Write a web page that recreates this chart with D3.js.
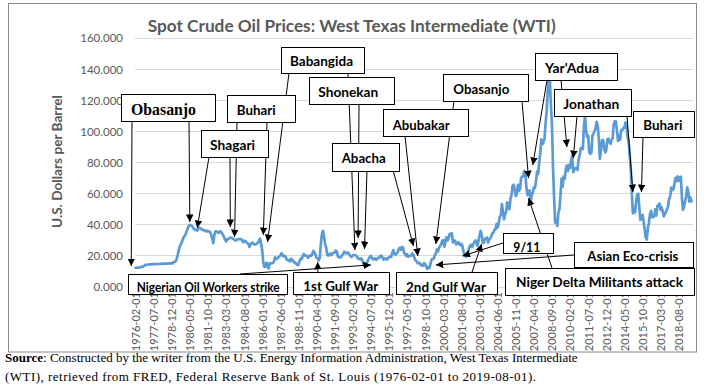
<!DOCTYPE html>
<html><head><meta charset="utf-8">
<script src="https://cdn.jsdelivr.net/npm/d3@7"></script>
<style>body{margin:0;background:#fff} svg{display:block}</style>
</head><body>
<svg id="c" width="706" height="389"></svg>
<script>
// ---------------- DATA ----------------
const startMonth = "1976-02";
const wti1970s = [
 12.1,12.1,12.2,12.2,12.2,12.6,12.6,12.9,13.2,13.9,14.0,
 14.0,14.2,14.3,14.3,14.3,14.4,14.4,14.4,14.4,14.5,14.5,14.5,
 14.6,14.6,14.6,14.7,14.7,14.8,14.8,14.8,14.9,14.9,14.9,14.9,
 14.9,15.9,15.9,16.5,18.5,21.5,24.5,26.5,28.0,29.5,31.5,32.5
];
const wti1980s = [
 33.5,35.5,37.5,39.0,39.8,39.5,39.0,38.0,37.0,36.5,36.5,36.0,
 37.5,38.0,37.5,37.0,36.5,36.5,36.0,35.5,36.0,35.5,35.5,35.0,
 33.5,31.0,28.0,33.0,35.5,35.5,35.0,34.5,35.5,35.5,34.5,33.5,
 32.0,30.5,29.0,30.5,30.5,31.0,31.5,31.5,31.0,30.5,30.0,29.5,
 30.0,30.5,30.5,30.5,30.5,30.0,28.5,29.5,29.5,28.5,28.0,27.5,
 25.5,27.0,28.0,28.3,27.5,27.0,27.3,27.8,28.3,29.5,30.8,27.2,
 22.9,15.4,12.6,12.8,15.4,13.5,11.6,15.1,14.9,14.9,15.2,16.1,
 18.7,17.7,18.3,18.6,19.4,20.0,21.4,20.3,19.5,19.8,18.9,17.2,
 17.1,16.8,16.2,17.9,17.4,16.5,15.5,15.5,14.5,13.8,14.0,16.3,
 18.0,17.8,19.4,21.0,20.0,20.0,19.6,18.5,19.6,20.1,19.8,21.1
];
const wti1990s = [
 22.9,22.1,20.4,18.4,18.2,16.9,18.6,27.2,33.7,35.9,32.3,27.3,
 25.2,20.5,19.9,20.8,21.2,20.2,21.4,21.7,21.9,23.2,22.5,19.5,
 18.8,19.0,18.9,20.2,20.9,22.4,21.8,21.4,21.9,21.7,20.3,19.4,
 19.0,20.1,20.3,20.3,19.9,19.1,17.9,18.0,17.5,18.1,16.7,14.5,
 15.0,14.8,14.7,16.4,17.9,19.1,19.7,18.4,17.5,17.7,18.1,17.2,
 18.0,18.5,18.6,19.9,19.7,18.4,17.3,18.0,18.2,17.4,18.0,19.0,
 18.9,19.1,21.3,23.5,21.2,20.4,21.3,21.9,23.9,24.9,23.7,25.4,
 25.2,22.2,20.9,19.7,20.8,19.2,19.6,19.9,19.8,21.3,20.2,18.3,
 16.7,16.1,15.0,15.4,14.9,13.7,14.1,13.4,15.0,14.4,12.9,11.3,
 12.5,12.0,14.7,17.3,17.8,17.9,20.1,21.3,23.9,22.6,25.0,26.1
];
const wti2000s = [
 27.2,29.4,29.9,25.7,28.8,31.8,29.7,31.3,33.9,33.1,34.4,28.5,
 29.6,29.6,27.2,27.4,28.6,27.6,26.5,27.5,25.9,22.2,19.7,19.3,
 19.7,20.7,24.4,26.3,27.0,25.5,26.9,28.4,29.7,28.9,26.3,29.4,
 32.9,35.9,33.6,28.3,28.1,30.7,30.8,31.6,28.3,30.3,31.1,32.1,
 34.3,34.7,36.7,36.7,40.3,38.0,40.7,44.9,45.9,53.1,48.5,43.3,
 46.8,48.0,54.3,53.0,49.8,56.3,58.7,64.9,65.6,62.4,58.3,59.4,
 65.5,61.6,62.9,69.7,70.9,70.9,74.4,73.0,63.8,58.9,59.1,62.0,
 54.5,59.3,60.4,63.9,63.5,67.5,74.1,72.4,79.9,85.8,94.8,91.7,
 93.0,95.4,105.5,112.6,125.4,133.9,133.4,116.7,104.1,76.6,57.3,41.1,
 41.7,39.1,47.9,49.6,59.0,69.6,64.2,71.0,69.4,75.7,78.0,74.5
];
const wti2010s = [
 78.3,76.4,81.2,84.3,73.7,75.3,76.3,76.6,75.2,81.9,84.3,89.2,
 89.2,88.6,102.9,109.5,100.9,96.3,97.3,86.3,85.5,86.3,97.2,98.6,
 100.3,102.2,106.2,103.3,94.7,82.3,87.9,94.1,94.5,89.5,86.5,87.9,
 94.8,95.3,92.9,92.0,94.5,95.8,104.6,106.6,106.3,100.5,93.9,97.6,
 94.6,100.8,100.8,102.1,102.2,105.8,103.6,96.5,93.2,84.4,75.8,59.3,
 47.2,50.6,47.8,54.5,59.3,59.8,50.9,42.9,45.5,46.2,42.4,37.2,
 31.7,30.3,37.5,40.8,46.7,48.8,44.7,44.7,45.2,49.8,45.7,52.0,
 52.5,53.5,49.3,51.1,48.5,45.2,46.6,48.0,49.8,51.6,56.6,57.9,
 63.7,62.2,62.7,66.3,70.0,67.9,71.0,68.1,70.2,70.8,57.0,49.5,
 51.4,54.9,58.2,63.9,60.8,54.7,57.4,54.8
];
const xTickLabels = ["1976-02-01","1977-07-01","1978-12-01","1980-05-01","1981-10-01","1983-03-01",
 "1984-08-01","1986-01-01","1987-06-01","1988-11-01","1990-04-01","1991-09-01","1993-02-01",
 "1994-07-01","1995-12-01","1997-05-01","1998-10-01","2000-03-01","2001-08-01","2003-01-01",
 "2004-06-01","2005-11-01","2007-04-01","2008-09-01","2010-02-01","2011-07-01","2012-12-01",
 "2014-05-01","2015-10-01","2017-03-01","2018-08-01"];
const yTicks = [0,20,40,60,80,100,120,140,160];

const titleText = "Spot Crude Oil Prices: West Texas Intermediate (WTI)";
const yTitle = "U.S. Dollars per Barrel";

// annotation labels and the data points they point to
const annLabels = ["Obasanjo","Babangida","Buhari","Shagari","Shonekan","Abacha","Abubakar",
 "Obasanjo","Yar'Adua","Jonathan","Buhari","Nigerian Oil Workers strike","1st Gulf War",
 "2nd Gulf War","9/11","Asian Eco-crisis","Niger Delta Militants attack"];
const arrowBox   = [0,0,3,3,2,2,1,1,4,5,5,6,11,12,7,7,8,8,9,9,10,14,15,13,16];
const arrowDate  = ["1975-10","1980-05","1980-12","1983-07","1983-11","1986-02","1986-06","1993-04",
 "1993-07","1994-01","1997-11","1998-03","1994-07","1990-05","1999-08","2006-11","2007-03",
 "2009-11","2010-05","2015-01","2015-09","2001-09","1999-08","2003-03","2006-11"];
const arrowValue = [13.2,41.6,37.7,38.4,31.9,33.2,28.7,23.5,31.3,24.2,26.1,19.7,13.9,15.8,27.4,69.9,
 78.3,89.9,82.8,60.9,60.9,19.7,13.9,27.4,57.0];

// ---------------- LAYOUT ----------------
const boxLayout = [
 {x:121,y:94,w:94,h:27,tx:131,ty:109.3,tl:65,serif:true},
 {x:281,y:47,w:83,h:26,tx:290,ty:60.7,tl:63},
 {x:227,y:95,w:68,h:27,tx:236.7,ty:109,tl:39},
 {x:201,y:130,w:67,h:27,tx:210,ty:144.3,tl:45},
 {x:309,y:77,w:85,h:27,tx:318.3,ty:91,tl:60},
 {x:332,y:143,w:67,h:28,tx:341.7,ty:157.3,tl:44},
 {x:383,y:109,w:85,h:27,tx:392.7,ty:124,tl:57},
 {x:443,y:74,w:85,h:27,tx:453.3,ty:88.3,tl:56},
 {x:535,y:53,w:82,h:27,tx:545,ty:67.3,tl:54},
 {x:554,y:89,w:77,h:27,tx:563.3,ty:103.3,tl:56},
 {x:633,y:111,w:61,h:26,tx:643.3,ty:124.3,tl:39},
 {x:128,y:274,w:159,h:20,tx:136.7,ty:286.7,tl:143,fs:13},
 {x:293,y:272,w:96,h:22,tx:303.3,ty:285.7,tl:75},
 {x:396,y:272,w:101,h:22,tx:406,ty:286.7,tl:80},
 {x:503,y:233,w:50,h:20,tx:513.3,ty:246.7,tl:27},
 {x:574,y:242,w:119,h:25,tx:587.3,ty:255.7,tl:91},
 {x:505,y:268,w:189,h:27,tx:516,ty:281.7,tl:167}
];
// arrow start points on the boxes
const arrowStart = [[132,121],[189,121],[209,157],[230,157],[237,122],[267,122],[289,73],[348,73],
 [359,104],[367,170],[393,170],[405,136],[240,274],[318,272],[454,101],[522,101],[547,80],[561,80],
 [577,116],[627,116],[643,137],[503,243],[574,255],[472,272],[552,268]];

// ---------------- DRAW ----------------
const values = [].concat(wti1970s, wti1980s, wti1990s, wti2000s, wti2010s);
const [sy, sm] = startMonth.split("-").map(Number);
const monthIndex = s => { const [y, m] = s.split("-").map(Number); return (y - sy) * 12 + (m - sm); };

const svg = d3.select("#c");
const x = d3.scaleLinear().domain([0, values.length - 1]).range([135.5, 691.5]);
const y = d3.scaleLinear().domain([0, 160]).range([286.5, 38.3]);
const gray = "#595959";

svg.append("rect").attr("x",8.5).attr("y",3.5).attr("width",688).attr("height",348.5)
  .attr("fill","#fff").attr("stroke","#8a8a8a").attr("stroke-width",1);

svg.append("text").attr("x",351.7).attr("y",25).attr("text-anchor","middle")
  .attr("dominant-baseline","central").attr("font-family","Lato").attr("font-weight","bold")
  .attr("font-size",17.5).attr("fill",gray).attr("textLength",408)
  .attr("lengthAdjust","spacingAndGlyphs").text(titleText);

// gridlines
svg.append("g").selectAll("line").data(yTicks).join("line")
  .attr("x1",135).attr("x2",693).attr("y1",d=>Math.round(y(d))+0.5).attr("y2",d=>Math.round(y(d))+0.5)
  .attr("stroke","#d9d9d9").attr("stroke-width",1);

// y axis
const yAxis = svg.append("g").attr("transform","translate(126,0)")
  .call(d3.axisLeft(y).tickValues(yTicks).tickFormat(d3.format(".3f")).tickSize(0).tickPadding(3));
yAxis.select(".domain").remove();
yAxis.selectAll("text").attr("font-family","Lato").attr("font-size",11.5).attr("fill",gray);

svg.append("text").attr("transform","translate(57,161.5) rotate(-90)").attr("text-anchor","middle")
  .attr("dominant-baseline","central").attr("font-family","Lato").attr("font-weight","bold")
  .attr("font-size",13.5).attr("fill",gray).attr("textLength",133)
  .attr("lengthAdjust","spacingAndGlyphs").text(yTitle);

// x axis
const tickIdx = xTickLabels.map(s => monthIndex(s.slice(0,7)));
const xAxis = svg.append("g").attr("transform","translate(0,286.5)")
  .call(d3.axisBottom(x).tickValues(tickIdx).tickFormat((d,i)=>xTickLabels[i]).tickSize(0));
xAxis.select(".domain").remove();
xAxis.selectAll("text").attr("transform","rotate(-90)").attr("x",-5.5).attr("y",0)
  .attr("dy","0.35em").attr("text-anchor","end").attr("font-family","Lato")
  .attr("font-size",11).attr("fill",gray);

// line
svg.append("path").datum(values)
  .attr("d", d3.line().x((d,i)=>x(i)).y(d=>y(d)))
  .attr("fill","none").attr("stroke","#5b9bd5").attr("stroke-width",2.7)
  .attr("stroke-linejoin","round").attr("stroke-linecap","round");

// arrows
svg.append("defs").append("marker").attr("id","ah").attr("viewBox","0 0 10 10")
  .attr("refX",10).attr("refY",5).attr("markerWidth",7.5).attr("markerHeight",7.5)
  .attr("markerUnits","userSpaceOnUse").attr("orient","auto")
  .append("path").attr("d","M0,0L10,5L0,10z").attr("fill","#000");

svg.append("g").selectAll("line").data(arrowDate).join("line")
  .attr("x1",(d,i)=>arrowStart[i][0]).attr("y1",(d,i)=>arrowStart[i][1])
  .attr("x2",(d,i)=>x(monthIndex(d))).attr("y2",(d,i)=>y(arrowValue[i]))
  .attr("stroke","#000").attr("stroke-width",1).attr("marker-end","url(#ah)");

// boxes
const bx = svg.append("g").selectAll("g").data(annLabels).join("g");
bx.append("rect").attr("x",(d,i)=>boxLayout[i].x+0.5).attr("y",(d,i)=>boxLayout[i].y+0.5)
  .attr("width",(d,i)=>boxLayout[i].w).attr("height",(d,i)=>boxLayout[i].h)
  .attr("fill","#fff").attr("stroke","#000").attr("stroke-width",1);
bx.append("text").attr("x",(d,i)=>boxLayout[i].tx).attr("y",(d,i)=>boxLayout[i].ty)
  .attr("dominant-baseline","central")
  .attr("font-family",(d,i)=>boxLayout[i].serif ? "Liberation Serif" : "Lato")
  .attr("font-weight","bold")
  .attr("font-size",(d,i)=>boxLayout[i].serif ? 16 : (boxLayout[i].fs || 14))
  .attr("textLength",(d,i)=>boxLayout[i].tl).attr("lengthAdjust","spacingAndGlyphs")
  .attr("fill","#000").text(d=>d);

// source note
const src1 = svg.append("text").attr("x",5).attr("y",362).attr("font-family","Liberation Serif")
  .attr("font-size",13).attr("fill","#000");
src1.append("tspan").attr("font-weight","bold").text("Source");
src1.append("tspan").text(": Constructed by the writer from the U.S. Energy Information Administration, West Texas Intermediate");
svg.append("text").attr("x",5).attr("y",381).attr("font-family","Liberation Serif")
  .attr("font-size",13).attr("fill","#000").attr("textLength",531)
  .attr("lengthAdjust","spacing")
  .text("(WTI), retrieved from FRED, Federal Reserve Bank of St. Louis (1976-02-01 to 2019-08-01).");
</script>
</body></html>
